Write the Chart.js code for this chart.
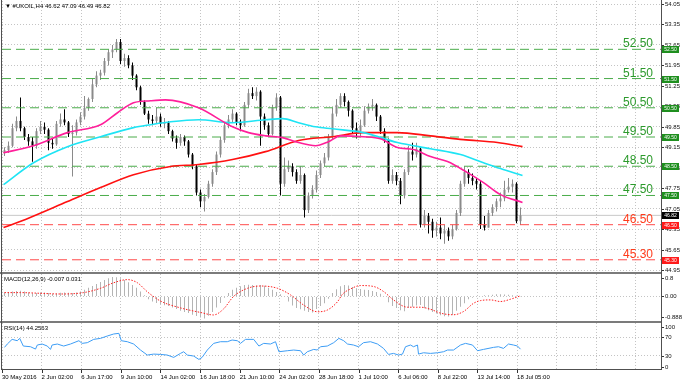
<!DOCTYPE html>
<html>
<head>
<meta charset="utf-8">
<title>#UKOIL,H4</title>
<script src="https://cdn.jsdelivr.net/npm/chart.js@4.4.1/dist/chart.umd.min.js"></script>
<style>
  html, body { margin:0; padding:0; background:#ffffff; }
  #wrap { position:relative; width:685px; height:383px; overflow:hidden; background:#ffffff; }
  #wrap canvas { position:absolute; left:0; }
  .rule { position:absolute; }
</style>
</head>
<body>
<div id="wrap">
  <canvas id="cMain" width="685" height="272" style="top:0"></canvas>
  <canvas id="cMacd" width="685" height="50" style="top:272px"></canvas>
  <canvas id="cRsi" width="685" height="61" style="top:322px"></canvas>
  <div class="rule" style="left:0;top:272px;width:662px;height:2px;background:#7b7b7b"></div>
  <div class="rule" style="left:0;top:321px;width:662px;height:2px;background:#7b7b7b"></div>
  <div class="rule" style="left:1px;top:0;width:1px;height:370px;background:#505050"></div>
  <div class="rule" style="left:661px;top:0;width:1px;height:370px;background:#505050"></div>
  <div class="rule" style="left:1px;top:369px;width:661px;height:1px;background:#505050"></div>
</div>
<script>
// ---------------- DATA ----------------
const timeLabels = ["30 May 2016","2 Jun 02:00","6 Jun 17:00","9 Jun 10:00","14 Jun 02:00","16 Jun 18:00","21 Jun 10:00","24 Jun 02:00","28 Jun 18:00","1 Jul 10:00","6 Jul 06:00","8 Jul 22:00","13 Jul 14:00","18 Jul 05:00"];

const opens = [
48.95,49.05,49.2,49.8,50.05,49.8,49.5,49.35,49.2,49.7,
49.85,49.75,49.3,49.25,49.95,50.1,50.0,49.6,49.65,50.0,
50.2,50.5,50.8,51.3,51.6,51.7,52.1,52.4,52.5,52.75,
52.1,52.2,51.95,51.6,51.2,50.7,50.3,50.1,50.05,50.2,
49.95,50.0,49.7,49.45,49.3,49.5,49.35,48.9,48.5,47.6,
47.3,47.45,47.9,48.3,48.9,49.4,49.9,50.1,50.3,50.0,
49.9,50.6,51.0,50.9,51.05,50.2,49.9,49.6,50.5,50.85,
47.9,48.4,48.5,48.3,48.0,48.2,47.0,47.5,47.7,48.2,
48.6,48.8,49.5,50.3,50.6,50.9,50.7,50.4,49.8,49.7,
49.9,50.4,50.55,50.6,50.2,49.7,49.4,48.0,48.2,48.0,
47.5,48.3,49.0,48.9,49.1,46.5,46.8,46.6,46.3,46.4,
46.2,46.3,46.1,46.35,46.9,47.9,48.3,48.1,48.0,47.9,
46.5,46.4,46.9,47.1,47.3,47.4,47.7,47.8,47.9,46.62];

const highs = [
49.15,49.35,49.95,50.2,50.85,49.85,49.6,49.5,49.8,50.05,
50.0,49.8,49.45,50.05,50.3,50.45,50.05,49.9,50.1,50.35,
50.9,50.85,51.5,51.75,51.8,52.2,52.5,52.65,52.85,52.85,
52.35,52.3,52.05,51.65,51.25,50.75,50.4,50.25,50.5,50.3,
50.15,50.05,49.75,49.55,49.6,49.55,49.4,48.95,48.55,47.7,
47.55,48.0,48.4,49.0,49.5,50.0,50.25,50.45,50.35,50.1,
50.7,51.15,51.2,51.2,51.1,50.3,50.0,50.6,51.0,50.9,
48.8,48.7,48.6,48.4,48.5,48.25,47.6,47.85,48.35,48.7,
48.95,49.6,50.5,50.8,51.0,51.0,50.75,50.45,50.0,50.1,
50.55,50.65,50.8,50.65,50.25,49.8,49.45,48.4,48.3,48.1,
48.4,49.2,49.3,49.3,49.15,47.0,46.9,46.7,46.6,46.75,
46.5,46.4,46.5,47.0,48.0,48.5,48.4,48.25,48.1,48.0,
46.8,47.0,47.2,47.4,47.6,48.0,48.1,48.05,47.95,47.09];

const lows = [
48.85,48.95,49.15,49.7,49.7,49.4,49.2,48.65,49.1,49.6,
49.6,49.05,49.1,49.2,49.85,49.9,49.5,48.15,49.55,49.9,
50.1,50.4,50.7,51.2,51.45,51.6,51.95,52.2,52.4,52.0,
51.9,51.85,51.45,51.1,50.6,50.25,49.95,49.9,49.95,49.85,
49.8,49.6,49.35,49.1,49.2,49.2,48.8,48.4,47.5,47.1,
46.95,47.4,47.8,48.2,48.8,49.3,49.8,50.0,49.9,49.7,
49.85,50.5,50.8,50.75,49.2,49.75,49.5,49.55,50.4,47.5,
47.8,48.3,48.15,47.9,47.9,46.75,46.9,47.4,47.6,48.1,
48.5,48.7,49.4,50.2,50.5,50.55,50.2,49.6,49.45,49.5,
49.85,50.3,50.4,50.05,49.6,49.3,47.9,47.9,47.85,47.2,
47.4,48.2,48.7,48.8,46.4,46.4,46.2,46.05,46.1,46.0,
45.85,45.95,46.0,46.3,46.8,47.8,47.9,47.85,47.7,46.35,
46.3,46.4,46.8,46.95,47.1,47.3,47.6,47.6,46.55,46.49];

const closes = [
49.05,49.2,49.8,50.05,49.8,49.5,49.35,49.2,49.7,49.85,
49.75,49.3,49.25,49.95,50.1,50.0,49.6,49.65,50.0,50.2,
50.5,50.8,51.3,51.6,51.7,52.1,52.4,52.5,52.75,52.1,
52.2,51.95,51.6,51.2,50.7,50.3,50.1,50.05,50.2,49.95,
50.0,49.7,49.45,49.3,49.5,49.35,48.9,48.5,47.6,47.3,
47.45,47.9,48.3,48.9,49.4,49.9,50.1,50.3,50.0,49.9,
50.6,51.0,50.9,51.05,50.2,49.9,49.6,50.5,50.85,47.9,
48.4,48.5,48.3,48.0,48.2,47.0,47.5,47.7,48.2,48.6,
48.8,49.5,50.3,50.6,50.9,50.7,50.4,49.8,49.7,49.9,
50.4,50.55,50.6,50.2,49.7,49.4,48.0,48.2,48.0,47.5,
48.3,49.0,48.9,49.1,46.5,46.8,46.6,46.3,46.4,46.2,
46.3,46.1,46.35,46.9,47.9,48.3,48.1,48.0,47.9,46.5,
46.4,46.9,47.1,47.3,47.4,47.7,47.8,47.9,46.62,46.82];

// moving averages (bar position, price)
const pinkAt  = [-0.25,7.25,15.75,24,28.25,32.25,36.5,40.25,48.5,57,61,65.25,69.5,73.5,77.75,81,84,89.75,94,98.25,102.25,106.5,110.75,115.75,119.75,124,129.5];
const pinkVal = [48.96,49.2,49.65,49.92,50.33,50.67,50.74,50.77,50.5,49.85,49.65,49.54,49.48,49.31,49.2,49.34,49.54,49.51,49.44,49.14,49.07,48.83,48.66,48.28,47.94,47.53,47.26];
const cyanAt  = [-0.25,7.25,15.75,24,32.25,36.5,41.5,48.5,57,65.25,69.5,73.5,77.75,82,89.75,98.25,106.5,114,119.75,124,129.5];
const cyanVal = [47.87,48.62,49.17,49.51,49.82,49.92,50.02,50.09,49.99,50.09,50.13,49.99,49.85,49.78,49.65,49.31,49.10,48.90,48.62,48.42,48.18];
const redAt   = [-0.25,5.25,15.75,24,32.25,41.5,48.5,57,65.25,73.5,82,89.75,98.25,106.5,114.75,123.25,129.5];
const redVal  = [46.40,46.68,47.29,47.77,48.21,48.49,48.56,48.73,49.00,49.38,49.51,49.65,49.65,49.54,49.41,49.31,49.17];

const levelsGreen = [52.5, 51.5, 50.5, 49.5, 48.5, 47.5];
const levelsRed = [46.5, 45.3];
const priceTicks = [54.05,53.35,52.65,51.95,51.25,50.55,49.85,49.15,48.45,47.75,47.05,46.35,45.65,44.95];

const macdHist = [
0.18,0.2,0.22,0.24,0.25,0.22,0.18,0.14,0.15,0.17,0.18,0.15,0.12,0.13,0.16,0.18,0.16,0.15,0.18,0.22,
0.3,0.38,0.46,0.55,0.64,0.72,0.8,0.85,
0.84,0.8,0.72,0.62,0.5,0.38,0.22,0.05,
-0.12,-0.22,-0.28,-0.33,-0.38,-0.42,-0.48,-0.55,-0.62,-0.68,-0.72,-0.8,-0.86,-0.92,
-0.96,-0.85,-0.68,-0.48,-0.28,-0.05,
0.15,0.3,0.38,0.45,0.5,0.52,0.5,0.48,0.5,0.47,
0.38,0.3,0.2,0.1,-0.02,
-0.22,-0.4,-0.5,-0.56,-0.62,-0.68,-0.7,
-0.55,-0.42,-0.3,-0.1,0.15,0.32,
0.45,0.5,0.48,0.42,0.36,0.33,0.3,0.28,0.24,0.2,0.12,
0.0,-0.25,-0.42,-0.5,-0.6,-0.65,
-0.5,-0.45,-0.4,-0.37,
-0.52,-0.6,-0.68,-0.75,-0.82,-0.87,-0.88,
-0.8,-0.62,-0.45,-0.3,-0.12,
-0.05,-0.02,0.02,0.05,0.06,0.08,0.1,0.1,0.09,0.08,0.06,0.03,-0.007];
const signalAt  = [0,4,9,14,19.75,24,27.25,30.75,33.25,35.75,39,44,49,52.25,54.75,57.25,60.75,64,68.25,71.5,74.75,78.25,80.75,83.25,84.5,86.5,89,92.25,94.75,97.25,100.75,104,106.5,109,112.25,114.75,117.25,119,121.5,124,126.5,129];
const signalVal = [0.17,0.17,0.14,0.11,0.17,0.36,0.6,0.74,0.6,0.2,-0.2,-0.5,-0.7,-0.81,-0.55,0.0,0.36,0.46,0.36,0.07,-0.37,-0.67,-0.59,-0.23,0.1,0.33,0.48,0.44,0.22,-0.15,-0.47,-0.47,-0.56,-0.73,-0.8,-0.66,-0.3,-0.18,-0.15,-0.22,-0.12,0.031];
const macdTicks = [0.8, 0, -0.888];
const macdTickText = ["0.8", "0.00", "-0.888"];

const rsiAt = [0,0.7,1.9,3.2,3.8,4.7,6.5,7.75,8.2,9.4,10.7,11.5,11.9,13.2,14.8,16.5,18.6,19.4,20.7,22.3,24,25.7,27.3,28.6,29.2,30.7,32.3,34,35.7,37.3,39,40.7,42.3,44,44.8,45.7,47.3,48.6,49.4,50.7,52.3,54,55.7,56.9,58.2,59,60.25,62.3,63.6,64.8,66.5,67.75,68.6,70.7,72.3,74,74.8,75.7,77.3,78.2,79,80.7,82.3,83.6,84.8,85.75,87.25,88.5,89.75,91.5,93.25,94.75,96,97.25,98.5,99.5,100.25,101.5,102.25,103.25,103.5,104.75,106.5,108.25,109.75,110.75,112.25,114,115.25,117,118.25,119.75,122.25,123.5,124.75,126,127.25,128.25,129];
const rsiVal = [48.2,55.5,65.6,62.7,67.8,51.1,49.6,44.5,53.3,55.5,51.1,43.8,53.3,55.5,51.1,55.5,62.7,56.9,58.4,65.6,67.8,72.9,77.3,78.7,62.7,60.5,55.5,42.4,31.5,33.6,32.9,31.5,26.4,35.1,38.7,31.5,29.3,22,26.4,42.4,56.9,60.5,60.5,64.2,62.7,56.9,65.6,65.6,51.1,56.9,55.5,60.5,38.7,40.9,42.4,40.9,31.5,38.7,43.8,42.4,49.6,51.1,58.4,67.8,62.7,55.5,53.3,49.6,58.4,60.5,55.5,46,32.9,35.1,31.5,33.6,49.6,53.3,49.6,53.3,33.6,36.5,35.1,36.5,38.7,42.4,42.4,53.3,56.9,53.3,40.9,43.8,48.2,49.6,46,55.5,53.3,51.1,44.2563];
const rsiTicks = [100, 70, 30, 0];

// ---------------- LAYOUT / STYLE ----------------
const FONT = '"Liberation Sans", "DejaVu Sans", sans-serif';
const X_MIN = -0.625, X_MAX = X_MIN + 659 / 4;
const GRID_STEP = 39.62 / 4;
const GRID_COUNT = 17;
const GRID_COLOR = '#c4c4c4';

function pts(xs, ys) { return xs.map((x, i) => ({ x: x, y: ys[i] })); }
function txt(ctx, s, x, y, size, color, align, base) {
  ctx.font = size + 'px ' + FONT;
  ctx.fillStyle = color;
  ctx.textAlign = align || 'left';
  ctx.textBaseline = base || 'middle';
  ctx.fillText(s, x, y);
}
function xScale() {
  return {
    type: 'linear', min: X_MIN, max: X_MAX, offset: false,
    grid: { offset: false, color: GRID_COLOR, lineWidth: 1, drawTicks: false },
    border: { display: false, dash: [1, 2] },
    ticks: { display: false },
    afterBuildTicks(s) { const t = []; for (let k = 0; k < GRID_COUNT; k++) t.push({ value: X_MIN + GRID_STEP * k }); s.ticks = t; }
  };
}
function yScale(min, max, tickVals) {
  return {
    type: 'linear', position: 'right', min: min, max: max,
    grid: { color: GRID_COLOR, lineWidth: 1, drawTicks: false },
    border: { display: false, dash: [1, 2] },
    ticks: { display: false },
    afterBuildTicks(s) { s.ticks = tickVals.map(v => ({ value: v })); }
  };
}
const common = {
  responsive: false, animation: false, devicePixelRatio: 1, events: [],
  plugins: { legend: { display: false }, tooltip: { enabled: false } }
};

// ---------------- MAIN PRICE PANEL ----------------
const N = closes.length;
const bull = '#8a8a8a', bear = '#000000';
const candleColors = closes.map((c, i) => c >= opens[i] ? bull : bear);
const bodyData = closes.map((c, i) => ({ x: i, y: [Math.min(opens[i], c), Math.max(opens[i], c)] }));
const wickData = closes.map((c, i) => ({ x: i, y: [lows[i], highs[i]] }));
const lastClose = closes[N - 1];

function levelSet(v, color, dash, order) {
  return { type: 'line', data: [{ x: X_MIN, y: v }, { x: X_MAX, y: v }], borderColor: color, borderWidth: 1,
           borderDash: dash, pointRadius: 0, order: order };
}

const mainDeco = {
  id: 'mainDeco',
  afterDraw(chart) {
    const ctx = chart.ctx, ys = chart.scales.y;
    ctx.save();
    levelsGreen.forEach(v => txt(ctx, v.toFixed(2), 653, ys.getPixelForValue(v) - 2, 12, '#2c9a2c', 'right', 'alphabetic'));
    levelsRed.forEach(v => txt(ctx, v.toFixed(2), 653, ys.getPixelForValue(v) - 2, 12, '#ff3a1a', 'right', 'alphabetic'));
    priceTicks.forEach(v => {
      const py = Math.round(ys.getPixelForValue(v));
      ctx.fillStyle = '#333'; ctx.fillRect(662, py, 2, 1);
      txt(ctx, v.toFixed(2), 665, py + 0.5, 6, '#111');
    });
    const tag = (v, bg) => {
      const py = Math.round(ys.getPixelForValue(v));
      ctx.fillStyle = bg; ctx.fillRect(662, py - 3, 17, 7);
      txt(ctx, v.toFixed(2), 670.5, py + 0.5, 5, '#ffffff', 'center');
    };
    levelsGreen.forEach(v => tag(v, '#1f8f1f'));
    levelsRed.forEach(v => tag(v, '#ff1a1a'));
    tag(lastClose, '#000000');
    const n = N - 1;
    txt(ctx, '\u25BC #UKOIL,H4 ' + [opens[n], highs[n], lows[n], closes[n]].map(v => v.toFixed(2)).join(' '), 5, 6.5, 6, '#000');
    ctx.restore();
  }
};

new Chart(document.getElementById('cMain'), {
  type: 'bar',
  data: {
    datasets: [
      { type: 'line', data: pts(pinkAt, pinkVal), borderColor: '#ff1f9a', borderWidth: 1.6, pointRadius: 0, cubicInterpolationMode: 'monotone', order: 1 },
      { type: 'line', data: pts(cyanAt, cyanVal), borderColor: '#1ee4f4', borderWidth: 1.6, pointRadius: 0, cubicInterpolationMode: 'monotone', order: 1 },
      { type: 'line', data: pts(redAt, redVal), borderColor: '#ff1010', borderWidth: 1.6, pointRadius: 0, cubicInterpolationMode: 'monotone', order: 1 },
      ...levelsGreen.map(v => levelSet(v, '#4aac4a', [9, 5], 2)),
      ...levelsRed.map(v => levelSet(v, '#ff4a4a', [9, 5], 2)),
      { type: 'bar', data: bodyData, backgroundColor: candleColors, barThickness: 2, grouped: false, inflateAmount: 0, order: 3 },
      { type: 'bar', data: wickData, backgroundColor: candleColors, barThickness: 1, grouped: false, inflateAmount: 0, order: 3 },
      levelSet(lastClose, '#c8c8c8', [], 4)
    ]
  },
  options: Object.assign({}, common, {
    layout: { padding: { left: 2, right: 24, top: 1, bottom: 1 } },
    scales: { x: xScale(), y: yScale(44.916, 54.153, priceTicks) }
  }),
  plugins: [mainDeco]
});

// ---------------- MACD PANEL ----------------
const macdDeco = {
  id: 'macdDeco',
  afterDraw(chart) {
    const ctx = chart.ctx, ys = chart.scales.y;
    ctx.save();
    macdTicks.forEach((v, i) => {
      const py = Math.round(ys.getPixelForValue(v));
      ctx.fillStyle = '#333'; ctx.fillRect(662, py, 2, 1);
      txt(ctx, macdTickText[i], 665, py + 0.5, 6, '#111');
    });
    txt(ctx, 'MACD(12,26,9) ' + macdHist[macdHist.length - 1].toFixed(3) + ' ' + signalVal[signalVal.length - 1].toFixed(3), 4, 7, 6, '#000');
    ctx.restore();
  }
};
new Chart(document.getElementById('cMacd'), {
  type: 'bar',
  data: {
    datasets: [
      { type: 'line', data: pts(signalAt, signalVal), borderColor: '#ff2020', borderWidth: 1, borderDash: [1.5, 1.5], pointRadius: 0, cubicInterpolationMode: 'monotone', order: 1 },
      { type: 'bar', data: macdHist.map((v, i) => ({ x: i, y: v })), backgroundColor: '#b4b4b4', barThickness: 1, grouped: false, inflateAmount: 0, order: 2 }
    ]
  },
  options: Object.assign({}, common, {
    layout: { padding: { left: 2, right: 24, top: 2, bottom: 1 } },
    scales: { x: xScale(), y: yScale(-1.075, 0.987, [0]) }
  }),
  plugins: [macdDeco]
});

// ---------------- RSI PANEL ----------------
const rsiDeco = {
  id: 'rsiDeco',
  afterDraw(chart) {
    const ctx = chart.ctx, ys = chart.scales.y, xs = chart.scales.x, a = chart.chartArea;
    ctx.save();
    rsiTicks.forEach(v => {
      let py = Math.round(ys.getPixelForValue(v));
      py = Math.min(Math.max(py, a.top + 4), a.bottom - 3);
      ctx.fillStyle = '#333'; ctx.fillRect(662, py, 2, 1);
      txt(ctx, String(v), 665, py + 0.5, 6, '#111');
    });
    txt(ctx, 'RSI(14) ' + rsiVal[rsiVal.length - 1].toFixed(4), 4, 6, 6, '#000');
    timeLabels.forEach((s, k) => {
      const px = xs.getPixelForValue(X_MIN + GRID_STEP * k);
      ctx.fillStyle = '#333'; ctx.fillRect(Math.round(px), a.bottom, 1, 3);
      txt(ctx, s, px, 55, 6, '#000', 'left');
    });
    ctx.restore();
  }
};
new Chart(document.getElementById('cRsi'), {
  type: 'line',
  data: {
    datasets: [
      { data: pts(rsiAt, rsiVal), borderColor: '#3d9df5', borderWidth: 1, pointRadius: 0, tension: 0 }
    ]
  },
  options: Object.assign({}, common, {
    layout: { padding: { left: 2, right: 24, top: 1, bottom: 13 } },
    scales: { x: xScale(), y: yScale(-1, 101.2, [70, 30]) }
  }),
  plugins: [rsiDeco]
});
</script>
</body>
</html>
